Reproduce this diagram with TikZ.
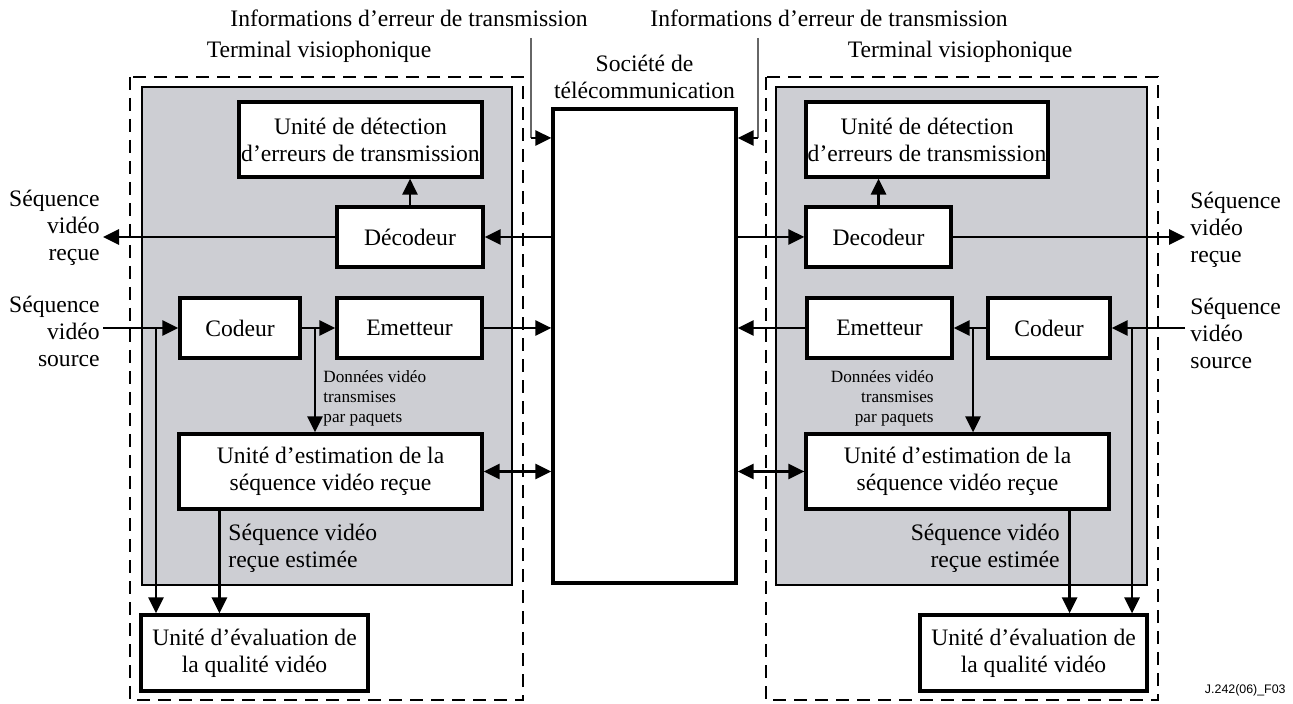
\documentclass[tikz,border=0pt]{standalone}
\usepackage{fontspec}
\setmainfont{Liberation Serif}
\newfontfamily\figidfont{Liberation Sans}
\usetikzlibrary{arrows.meta}
\definecolor{coregray}{RGB}{205,206,211}
\tikzset{
  box/.style={draw, line width=1.6pt, fill=white, align=center, inner sep=0pt, minimum height=30pt},
  txt/.style={font=\fontsize{11.8}{13.5}\selectfont, align=center, inner sep=0pt},
  small/.style={font=\fontsize{8.6}{10}\selectfont, inner sep=0pt},
  arr/.style={line width=1.4pt, -{Triangle[length=8pt,width=7.5pt]}},
  biarr/.style={line width=1.4pt, {Triangle[length=8pt,width=7.5pt]}-{Triangle[length=8pt,width=7.5pt]}},
  feed/.style={line width=0.6pt, color=black!60},
  zone/.style={line width=1.4pt, dash pattern=on 6.5pt off 4pt},
  core/.style={draw, line width=1.1pt, fill=coregray}
}

\begin{document}
\begin{tikzpicture}[x=0.5pt,y=-0.5pt]
		%%%%% START %%%%%
		\useasboundingbox (0,0) rectangle (1293,704);
		
		\draw[zone] (130,77) rectangle (523,700);
		\draw[zone] (766,77) rectangle (1158,700);
		\draw[core] (142,87) rectangle (512,585);
		\draw[core] (776,87) rectangle (1147,585);
		
		%%%%% network %%%%%
		\node[box, minimum width=91.5pt, minimum height=237pt] (net) at (644.5,346) {};
		\node[txt] (netlbl) at (644.5,77) {Société de\\télécommunication};
		
		\node[txt] (termL) at (319,52) {Terminal visiophonique};
		\node[txt] (termR) at (960,52) {Terminal visiophonique};
		\node[txt] (infoL) at (409,18) {Informations d’erreur de transmission};
		\node[txt] (infoR) at (829,18) {Informations d’erreur de transmission};
		
		%%%%% left terminal %%%%%
		\node[box, txt, minimum width=121.5pt, minimum height=37.5pt] (detL) at (360.5,139.5) {Unité de détection\\d’erreurs de transmission};
		\node[box, txt, minimum width=73pt] (decL) at (410,237) {Décodeur};
		\node[box, txt, minimum width=60pt] (codL) at (240,328) {Codeur};
		\node[box, txt, minimum width=72.5pt] (emL) at (409.5,328) {Emetteur};
		\node[box, txt, minimum width=151.5pt, minimum height=37.5pt] (estL) at (330.5,471.5) {Unité d’estimation de la\\séquence vidéo reçue};
		\node[box, txt, minimum width=113.5pt, minimum height=38pt] (evaL) at (254.5,653) {Unité d’évaluation de\\la qualité vidéo};
		
		\node[txt, anchor=east, align=right] (rxL) at (100,228) {Séquence\\vidéo\\reçue};
		\node[txt, anchor=east, align=right] (srcL) at (100,331) {Séquence\\vidéo\\source};
		\node[small, anchor=west, align=left] (pktL) at (323,398) {Données vidéo\\transmises\\par paquets};
		\node[txt, anchor=west, align=left] (estimL) at (228,548) {Séquence vidéo\\reçue estimée};
		
		\coordinate (outL) at (103,237);
		\coordinate (inL) at (103,328);
		\coordinate (tapL) at (156,328);
		\coordinate (splitL) at (315,328);
		\coordinate (infL) at (531,38);
		\coordinate (cornerL) at (531,138);
		
		\draw[arr] (decL.north) -- (decL.north |- detL.south);
		\draw[arr] (decL.west) -- (outL);
		\draw[arr] (net.west |- decL) -- (decL.east);
		\draw[arr] (inL) -- (codL.west);
		\draw[arr] (tapL) -- (tapL |- evaL.north);
		\draw[arr] (codL.east) -- (emL.west);
		\draw[arr] (splitL) -- (splitL |- estL.north);
		\draw[arr] (emL.east) -- (net.west |- emL);
		\draw[biarr] (estL.east) -- (net.west |- estL);
		\draw[arr] ([xshift=21pt]estL.south west) -- ([xshift=21pt]estL.south west |- evaL.north);
		\draw[feed] (infL) -- (cornerL);
		\draw[arr] (cornerL) -- (net.west |- cornerL);
		
		%%%%% right terminal %%%%%
		\node[box, txt, minimum width=121pt, minimum height=37.5pt] (detR) at (927,139.5) {Unité de détection\\d’erreurs de transmission};
		\node[box, txt, minimum width=72.5pt] (decR) at (878.5,237) {Decodeur};
		\node[box, txt, minimum width=72.5pt] (emR) at (879.5,328) {Emetteur};
		\node[box, txt, minimum width=61pt] (codR) at (1049,328) {Codeur};
		\node[box, txt, minimum width=151.5pt, minimum height=37.5pt] (estR) at (957.5,471.5) {Unité d’estimation de la\\séquence vidéo reçue};
		\node[box, txt, minimum width=113.5pt, minimum height=38pt] (evaR) at (1033.5,653) {Unité d’évaluation de\\la qualité vidéo};
		
		\node[txt, anchor=west, align=left] (rxR) at (1190,230) {Séquence\\vidéo\\reçue};
		\node[txt, anchor=west, align=left] (srcR) at (1190,333) {Séquence\\vidéo\\source};
		\node[small, anchor=east, align=right] (pktR) at (934,398) {Données vidéo\\transmises\\par paquets};
		\node[txt, anchor=east, align=right] (estimR) at (1060,548) {Séquence vidéo\\reçue estimée};
		
		\coordinate (outR) at (1185,237);
		\coordinate (inR) at (1185,328);
		\coordinate (tapR) at (1132,328);
		\coordinate (splitR) at (973,328);
		\coordinate (infR) at (758,38);
		\coordinate (cornerR) at (758,138);
		
		\draw[arr] (decR.north) -- (decR.north |- detR.south);
		\draw[arr] (decR.east) -- (outR);
		\draw[arr] (net.east |- decR) -- (decR.west);
		\draw[arr] (inR) -- (codR.east);
		\draw[arr] (tapR) -- (tapR |- evaR.north);
		\draw[arr] (codR.west) -- (emR.east);
		\draw[arr] (splitR) -- (splitR |- estR.north);
		\draw[arr] (emR.west) -- (net.east |- emR);
		\draw[biarr] (estR.west) -- (net.east |- estR);
		\draw[arr] ([xshift=-20.5pt]estR.south east) -- ([xshift=-20.5pt]estR.south east |- evaR.north);
		\draw[feed] (infR) -- (cornerR);
		\draw[arr] (cornerR) -- (net.east |- cornerR);
		
		\node[font=\figidfont\fontsize{6.2}{7}\selectfont, anchor=east, inner sep=0pt] (figid) at (1286,690) {J.242(06)\_F03};
		
		%%%%% END %%%%%
\end{tikzpicture}
\end{document}
